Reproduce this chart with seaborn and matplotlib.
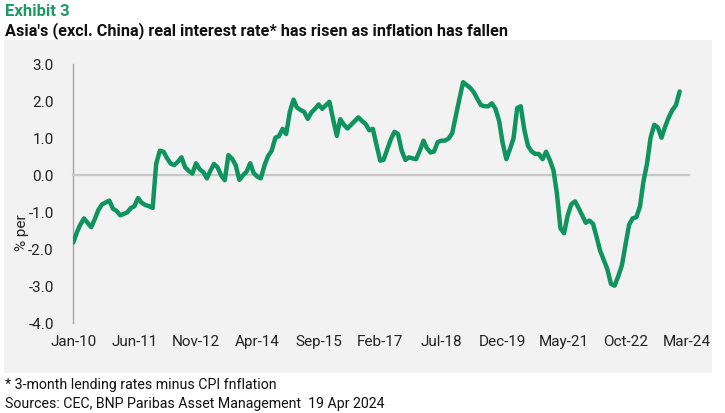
import matplotlib
matplotlib.use("Agg")
import matplotlib.pyplot as plt
from matplotlib.patches import Rectangle
import seaborn as sns
import pandas as pd

# ---- data (monthly, Jan-2010 .. Jan-2024), % per annum ----
real_rate = [
    -1.83, -1.55, -1.35, -1.18, -1.30, -1.42, -1.20, -0.95, -0.80, -0.75, -0.70, -0.92,
    -0.98, -1.10, -1.06, -1.02, -0.90, -0.85, -0.63, -0.76, -0.82, -0.85, -0.90, 0.30,
    0.65, 0.62, 0.45, 0.30, 0.26, 0.35, 0.47, 0.20, 0.10, 0.03, 0.31, 0.15,
    0.07, -0.10, 0.10, 0.29, 0.20, -0.02, -0.15, 0.53, 0.43, 0.26, -0.14, -0.02,
    0.08, 0.31, 0.05, -0.05, -0.10, 0.25, 0.50, 0.65, 1.00, 1.04, 1.24, 1.10,
    1.70, 2.03, 1.82, 1.75, 1.70, 1.51, 1.68, 1.78, 1.90, 1.78, 1.88, 1.97,
    1.50, 1.05, 1.50, 1.35, 1.25, 1.35, 1.45, 1.55, 1.45, 1.37, 1.20, 1.24,
    0.80, 0.38, 0.40, 0.68, 0.95, 1.16, 1.10, 0.65, 0.40, 0.47, 0.44, 0.42,
    0.65, 0.92, 0.72, 0.60, 0.63, 0.88, 0.92, 0.92, 0.98, 1.12, 1.60, 2.05,
    2.50, 2.42, 2.35, 2.23, 2.05, 1.88, 1.85, 1.85, 1.93, 1.78, 1.45, 0.85,
    0.42, 0.70, 0.98, 1.80, 1.85, 1.20, 0.78, 0.63, 0.56, 0.56, 0.42, 0.62,
    0.40, 0.12, -0.48, -1.45, -1.58, -1.10, -0.80, -0.72, -0.90, -1.10, -1.30, -1.24,
    -1.33, -1.70, -2.05, -2.30, -2.55, -2.95, -3.00, -2.75, -2.45, -1.90, -1.35, -1.18,
    -1.15, -0.85, -0.20, 0.30, 1.00, 1.35, 1.28, 1.00, 1.30, 1.55, 1.75, 1.88,
    2.25,
]
start_month = "2010-01-01"
tick_labels = ["Jan-10", "Jun-11", "Nov-12", "Apr-14", "Sep-15", "Feb-17",
               "Jul-18", "Dec-19", "May-21", "Oct-22", "Mar-24"]
y_ticks = [3.0, 2.0, 1.0, 0.0, -1.0, -2.0, -3.0, -4.0]

dates = pd.date_range(start_month, periods=len(real_rate), freq="MS")
df = pd.DataFrame({"date": dates, "rate": real_rate})
tick_dates = pd.to_datetime(tick_labels, format="%b-%y")

sns.set_theme(style="white")
plt.rcParams["font.family"] = ["Roboto", "DejaVu Sans"]

W, H = 725, 414
fig = plt.figure(figsize=(W / 100, H / 100), dpi=100, facecolor="white")

# grey panel behind the chart
fig.patches.append(Rectangle((4 / W, 1 - 374 / H), (712 - 4) / W, (374 - 41) / H,
                             transform=fig.transFigure, facecolor="#F2F2F2",
                             edgecolor="none", zorder=-5))

ax = fig.add_axes([73.3 / W, 1 - 323.7 / H, (689 - 73.3) / W, (323.7 - 64.7) / H])
ax.set_zorder(2)
ax.set_facecolor("none")

green = "#0F935F"
sns.lineplot(data=df, x="date", y="rate", ax=ax, color=green, linewidth=3.2,
             solid_joinstyle="round", zorder=3)

ax.set_ylim(-4, 3)
ax.set_xlim(pd.Timestamp("2010-01-01"), pd.Timestamp("2024-03-20"))
ax.set_yticks(y_ticks)
ax.set_yticklabels([f"{v:.1f}" for v in y_ticks], fontsize=11, color="#222222")
ax.set_xlabel("")
ax.set_ylabel("")

for s in ["top", "right"]:
    ax.spines[s].set_visible(False)
ax.spines["left"].set_color("#A6A6A6")
ax.spines["left"].set_linewidth(1.0)
ax.spines["bottom"].set_position(("data", 0))
ax.spines["bottom"].set_color("#C8C8C8")
ax.spines["bottom"].set_linewidth(1.6)
ax.tick_params(axis="y", direction="out", length=4, width=0.8, color="#A6A6A6", pad=10)
ax.set_xticks(tick_dates)
ax.tick_params(axis="x", direction="out", length=4, width=0.8, color="#A6A6A6",
               labelbottom=False)

sec = ax.secondary_xaxis("bottom")
sec.set_xticks(tick_dates)
sec.set_xticklabels(tick_labels, fontsize=11, color="#222222")
sec.tick_params(length=0, pad=8)
sec.spines["bottom"].set_visible(False)

fig.text(22 / W, 1 - 233 / H, "% per", rotation=90, ha="center", va="center",
         fontsize=11, color="#222222")

fig.text(5 / W, 1 - 12 / H, "Exhibit 3", ha="left", va="center", fontsize=12,
         fontweight="bold", color="#1B9A68")
fig.text(5 / W, 1 - 31 / H, "Asia's (excl. China) real interest rate* has risen as inflation has fallen",
         ha="left", va="center", fontsize=11.7, fontweight="bold", color="#111111")
fig.text(5 / W, 1 - 385 / H, "* 3-month lending rates minus CPI fnflation",
         ha="left", va="center", fontsize=10.2, color="#111111")
fig.text(5 / W, 1 - 404 / H, "Sources: CEC, BNP Paribas Asset Management  19 Apr 2024",
         ha="left", va="center", fontsize=10.2, color="#111111")

fig.savefig("out.png", dpi=100, facecolor="white")
